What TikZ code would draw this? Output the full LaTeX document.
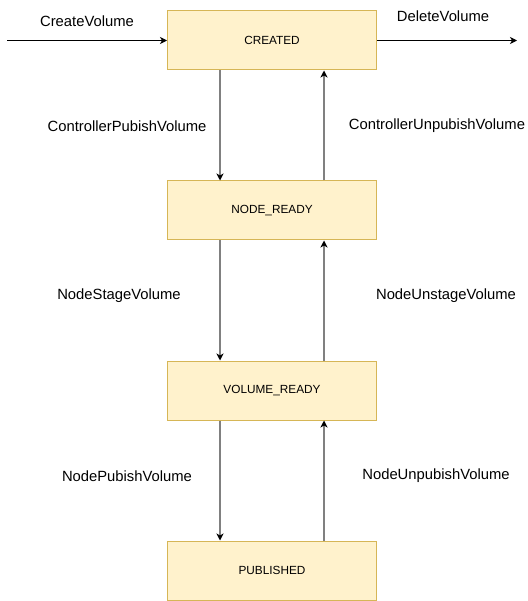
\documentclass[tikz,border=0pt]{standalone}
\usepackage{fontspec}
\setmainfont{Liberation Sans}
\usetikzlibrary{arrows.meta}
\definecolor{boxfill}{HTML}{FFF2CC}
\definecolor{boxdraw}{HTML}{D6B656}
\begin{document}
\begin{tikzpicture}[x=1pt,y=-1pt,
  state/.style={draw=boxdraw,fill=boxfill,line width=1pt,minimum width=209pt,minimum height=59pt,inner sep=0pt,font=\fontsize{11.8}{13}\selectfont},
  lbl/.style={inner sep=0pt,font=\fontsize{14.8}{16}\selectfont},
  harrow/.style={draw=black,line width=1pt,-{Stealth[length=7pt,width=7pt,inset=2pt]}},
  varrow/.style={draw=black!50,line width=1.2pt,-{Stealth[length=7pt,width=7pt,inset=2pt,color=black]}}]
\useasboundingbox (0,0) rectangle (527,601);
\node[state] (created) at (272,40.5) {CREATED};
\node[state] (nodeready) at (272,210.5) {NODE\_READY};
\node[state] (volready) at (272,390.5) {VOLUME\_READY};
\node[state] (published) at (272,570.5) {PUBLISHED};
\coordinate (in) at (7,40.5);
\coordinate (out) at (517,40.5);
\draw[harrow] (in) -- (created.west);
\draw[harrow] (created.east) -- (out);
\draw[varrow] (created.south -| 220,0) -- (nodeready.north -| 220,0);
\draw[varrow] (nodeready.north -| 324,0) -- (created.south -| 324,0);
\draw[varrow] (nodeready.south -| 220,0) -- (volready.north -| 220,0);
\draw[varrow] (volready.north -| 324,0) -- (nodeready.south -| 324,0);
\draw[varrow] (volready.south -| 220,0) -- (published.north -| 220,0);
\draw[varrow] (published.north -| 324,0) -- (volready.south -| 324,0);
\node[lbl] (l1) at (87,21) {CreateVolume};
\node[lbl] (l2) at (443,16) {DeleteVolume};
\node[lbl] (l3) at (127,126) {ControllerPubishVolume};
\node[lbl] (l4) at (437,126) {ControllerUnpubishVolume};
\node[lbl] (l5) at (119,296) {NodeStageVolume};
\node[lbl] (l6) at (446,296) {NodeUnstageVolume};
\node[lbl] (l7) at (127,476) {NodePubishVolume};
\node[lbl] (l8) at (436,476) {NodeUnpubishVolume};
\end{tikzpicture}
\end{document}
